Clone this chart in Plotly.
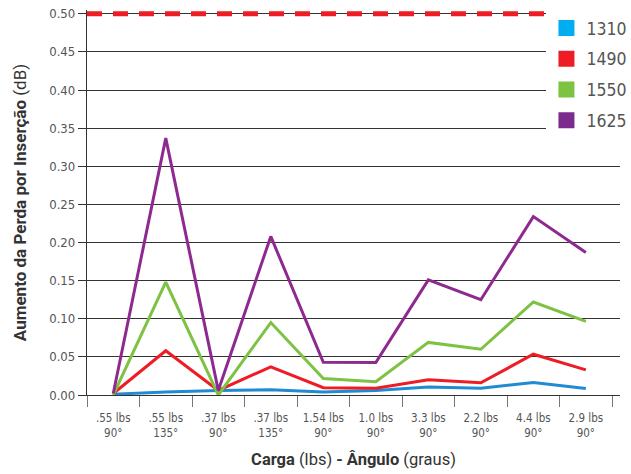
import plotly.graph_objects as go

# Load / bend-angle test conditions (two-line tick labels)
conditions = [".55 lbs<br>90°", ".55 lbs<br>135°", ".37 lbs<br>90°", ".37 lbs<br>135°",
              "1.54 lbs<br>90°", "1.0 lbs<br>90°", "3.3 lbs<br>90°", "2.2 lbs<br>90°",
              "4.4 lbs<br>90°", "2.9 lbs<br>90°"]

# Insertion-loss increase (dB) per wavelength
loss_1310 = [0.001, 0.004, 0.006, 0.007, 0.004, 0.006, 0.0105, 0.009, 0.0165, 0.0085]
loss_1490 = [0.002, 0.058, 0.006, 0.037, 0.0095, 0.009, 0.020, 0.016, 0.0535, 0.033]
loss_1550 = [0.000, 0.148, 0.000, 0.095, 0.0215, 0.0175, 0.069, 0.060, 0.122, 0.0965]
loss_1625 = [0.002, 0.337, 0.006, 0.208, 0.043, 0.0425, 0.151, 0.125, 0.234, 0.187]

# Maximum allowed increase
limit_db = 0.50

wavelengths = ["1310", "1490", "1550", "1625"]
series = [loss_1310, loss_1490, loss_1550, loss_1625]
line_colors = ["#1f8bd2", "#ee1c25", "#7dc242", "#8e2a8f"]
legend_colors = ["#00aeef", "#ee1c25", "#7dc242", "#7b2a8e"]

y_ticks = [i * 0.05 for i in range(11)]

FONT = "DejaVu Sans Condensed, Roboto, sans-serif"
TITLE_FONT = "Roboto, Liberation Sans, sans-serif"

fig = go.Figure()

for name, vals, lc in zip(wavelengths, series, line_colors):
    fig.add_trace(go.Scatter(
        x=conditions, y=vals, mode="lines", name=name,
        line=dict(color=lc, width=3), showlegend=False, cliponaxis=False,
    ))

# Legend entries drawn as coloured squares
for name, c in zip(wavelengths, legend_colors):
    fig.add_trace(go.Scatter(
        x=[None], y=[None], mode="markers", name=name, legendgroup=name,
        marker=dict(symbol="square", size=16, color=c),
    ))

fig.add_shape(type="line", xref="paper", x0=0, x1=1, yref="y", y0=limit_db, y1=limit_db,
              line=dict(color="#ee1c25", width=5, dash="15px,11px"), layer="above")

fig.update_layout(
    width=631, height=474,
    margin=dict(l=87, r=11, t=10, b=79, autoexpand=False),
    paper_bgcolor="white", plot_bgcolor="white",
    font=dict(family=FONT, color="#555555"),
    showlegend=True,
    legend=dict(
        x=0.862, xanchor="left", y=1.0, yanchor="top",
        bgcolor="white", borderwidth=0,
        font=dict(family=FONT, size=17.5, color="#555555"),
        traceorder="grouped", tracegroupgap=5,
    ),
    xaxis=dict(
        type="category", range=[-0.5, 9.65], automargin=False,
        showline=True, linecolor="#333333", linewidth=1.3,
        showgrid=False, zeroline=False,
        ticks="outside", tickson="boundaries", ticklen=11, tickcolor="#777777", tickwidth=1.3,
        tickangle=0, ticklabelstandoff=12,
        tickfont=dict(family=FONT, size=11.5, color="#555555"),
        title=dict(text="<b>Carga</b> (lbs) <b>- Ângulo</b> (graus)",
                   font=dict(family=TITLE_FONT, size=16.5, color="#333333"), standoff=14),
    ),
    yaxis=dict(
        range=[0, 0.505], tickvals=y_ticks, tickformat=".2f", automargin=False,
        showline=True, linecolor="#333333", linewidth=1.3,
        showgrid=True, gridcolor="#333333", gridwidth=1.2, zeroline=False,
        ticks="outside", ticklen=8, tickcolor="#333333", tickwidth=1.2,
        tickfont=dict(family=FONT, size=13, color="#555555"),
        title=dict(text="<b>Aumento da Perda por Inserção</b> (dB)",
                   font=dict(family=TITLE_FONT, size=17, color="#333333"), standoff=18),
    ),
)

fig.write_html("out.html")
